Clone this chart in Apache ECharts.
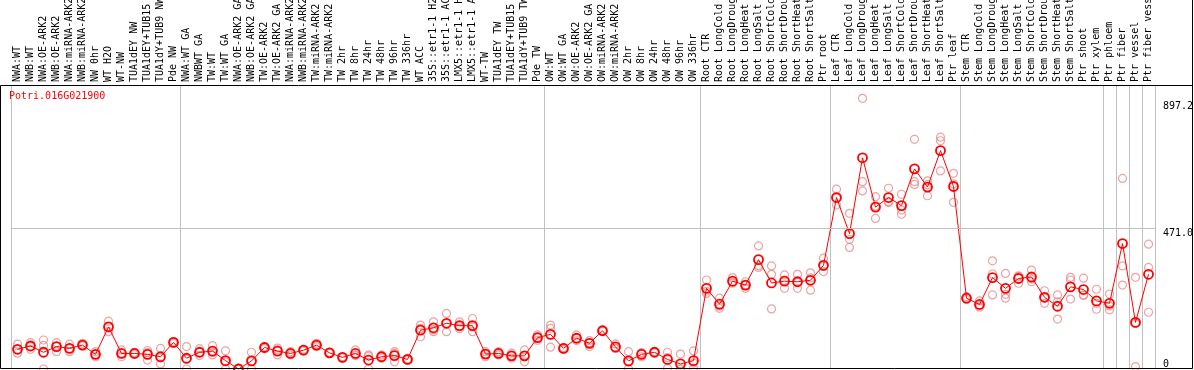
<!DOCTYPE html>
<html>
<head>
<meta charset="utf-8">
<script src="https://cdn.jsdelivr.net/npm/echarts@6/dist/echarts.min.js"></script>
<style>
html,body{margin:0;padding:0;background:#fff;}
#chart{width:1194px;height:370px;}
</style>
</head>
<body>
<div id="chart"></div>
<script>
var geneName = 'Potri.016G021900';
var categories = [
	'NWA:WT','NWB:WT','NWA:OE-ARK2','NWB:OE-ARK2','NWA:miRNA-ARK2','NWB:miRNA-ARK2','NW 0hr','WT H2O','WT-NW','TUA1dEY NW','TUA1dEY+TUB15 NW','TUA1dY+TUB9 NW','Pde NW',
	'NWA:WT GA','NWBWT GA','TW:WT','TW:WT GA','NWA:OE-ARK2 GA','NWB:OE-ARK2 GA','TW:OE-ARK2','TW:OE-ARK2 GA','NWA:miRNA-ARK2','NWB:miRNA-ARK2','TW:miRNA-ARK2','TW:miRNA-ARK2',
	'TW 2hr','TW 8hr','TW 24hr','TW 48hr','TW 96hr','TW 336hr','WT ACC','35S::etr1-1 H2O','35S::etr1-1 ACC','LMX5::etr1-1 H2O','LMX5::etr1-1 ACC','WT-TW','TUA1dEY TW','TUA1dEY+TUB15 TW','TUA1dY+TUB9 TW','Pde TW',
	'OW:WT','OW:WT GA','OW:OE-ARK2','OW:OE-ARK2 GA','OW:miRNA-ARK2','OW:miRNA-ARK2','OW 2hr','OW 8hr','OW 24hr','OW 48hr','OW 96hr','OW 336hr',
	'Root CTR','Root LongCold','Root LongDrought','Root LongHeat','Root LongSalt','Root ShortCold','Root ShortDrought','Root ShortHeat','Root ShortSalt','Ptr root',
	'Leaf CTR','Leaf LongCold','Leaf LongDrought','Leaf LongHeat','Leaf LongSalt','Leaf ShortCold','Leaf ShortDrought','Leaf ShortHeat','Leaf ShortSalt','Ptr leaf',
	'Stem CTR','Stem LongCold','Stem LongDrought','Stem LongHeat','Stem LongSalt','Stem ShortCold','Stem ShortDrought','Stem ShortHeat','Stem ShortSalt','Ptr shoot','Ptr xylem',
	'Ptr phloem','Ptr fiber','Ptr vessel','Ptr fiber vessel'
];
// first category of each sample group (vertical separators)
var groupStarts = [0, 13, 41, 53, 63, 73, 84, 85, 86, 87];
var yTicks = [0, 471.0, 897.2];

var means = [66,77,56,75,69,80,49,141,52,52,49,41,89,
	36,56,60,28,0,27,72,60,52,63,80,54,39,52,30,41,45,32,130,138,153,145,145,50,52,44,44,105,
	116,69,103,86,128,74,27,49,56,32,17,28,
	270,217,294,281,366,288,294,292,297,347,
	574,453,707,542,574,547,670,609,731,611,
	237,216,306,270,303,308,240,210,275,266,228,
	220,420,156,317];
var rep1 = [83,88,97,88,83,86,58,160,64,56,62,69,92,
	75,68,78,61,3,56,75,70,58,66,86,56,41,64,47,47,58,34,147,158,186,158,169,58,58,53,64,114,
	147,72,114,95,130,84,58,55,58,56,50,61,
	298,237,306,292,412,345,315,317,322,371,
	602,521,906,577,605,585,769,630,776,655,
	242,228,362,320,311,331,262,248,307,304,267,
	251,638,307,418];
var rep2 = [66,75,79,76,68,80,49,142,52,52,55,37,89,
	33,56,56,24,0,25,72,64,52,63,80,54,39,47,43,41,52,32,136,131,153,142,141,50,52,44,44,105,
	136,69,103,88,128,69,23,52,56,38,0,20,
	260,211,290,281,346,317,297,290,305,344,
	572,434,627,545,560,532,627,617,764,620,
	237,213,318,250,311,301,238,225,298,248,220,
	211,345,153,340];
var rep3 = [53,66,0,58,58,77,41,125,41,49,30,17,86,
	0,45,47,0,0,0,68,47,47,60,75,52,37,45,0,36,24,30,108,125,125,135,125,41,47,36,24,96,
	73,66,95,75,126,69,0,41,54,2,0,2,
	253,203,287,270,340,201,270,270,264,326,
	549,407,596,504,557,518,618,580,663,558,
	233,207,248,237,287,292,220,167,234,246,200,
	198,281,8,190];

var chart = echarts.init(document.getElementById('chart'), null, {renderer: 'canvas'});

var repData = [];
[rep1, rep2, rep3].forEach(function(arr){
	arr.forEach(function(v, i){
		if (v != null) repData.push([i, v]);
	});
});

function isGroupStart(index){
	return groupStarts.indexOf(index) >= 0;
}

var monoFont = 'DejaVu Sans Mono';
var option = {
	animation: false,
	backgroundColor: '#fff',
	title: {
		text: geneName,
		left: 9,
		top: 91,
		padding: 0,
		textStyle: {
			color: '#ff0000',
			fontSize: 10,
			fontWeight: 'normal',
			fontFamily: monoFont
		}
	},
	grid: {
		left: 11,
		right: 39,
		top: 85,
		bottom: 1,
		outerBoundsMode: 'none',
		containLabel: false
	},
	xAxis: {
		type: 'category',
		position: 'top',
		data: categories,
		boundaryGap: true,
		axisLine: {show: false},
		axisTick: {
			show: true,
			length: 85,
			interval: isGroupStart,
			lineStyle: {color: '#c0c0c0', width: 1}
		},
		splitLine: {
			show: true,
			interval: isGroupStart,
			lineStyle: {color: '#c0c0c0', width: 1}
		},
		axisLabel: {
			interval: 0,
			rotate: 90,
			margin: 3,
			color: '#000',
			fontSize: 10,
			fontFamily: monoFont,
			hideOverlap: false
		}
	},
	yAxis: {
		type: 'value',
		position: 'right',
		min: 0,
		max: 950.7,
		axisLine: {show: false},
		axisTick: {show: false},
		axisLabel: {show: false},
		splitLine: {show: false}
	},
	series: [
		{
			name: 'replicates',
			type: 'scatter',
			data: repData,
			symbol: 'circle',
			symbolSize: 8,
			clip: false,
			z: 2,
			itemStyle: {
				color: 'rgba(255,255,255,0)',
				borderColor: '#e88c8c',
				borderWidth: 1.2
			}
		},
		{
			name: 'mean',
			type: 'line',
			data: means,
			symbol: 'circle',
			symbolSize: 9,
			showAllSymbol: true,
			clip: false,
			z: 3,
			lineStyle: {color: '#ff0000', width: 1},
			itemStyle: {
				color: 'rgba(255,255,255,0)',
				borderColor: '#ff0000',
				borderWidth: 1.8
			},
			markLine: {
				silent: true,
				symbol: 'none',
				animation: false,
				data: yTicks.map(function(v){
					return {
						yAxis: v,
						lineStyle: {
							color: v === 471.0 ? '#c0c0c0' : 'rgba(0,0,0,0)',
							type: 'solid',
							width: 1
						},
						label: {
							show: true,
							position: 'end',
							distance: 8,
							formatter: v === 0 ? '0' : v.toFixed(1),
							color: '#000',
							fontSize: 10,
							fontFamily: monoFont,
							align: 'left',
							verticalAlign: v === 0 ? 'bottom' : 'top'
						}
					};
				})
			}
		}
	],
	graphic: [
		{
			type: 'rect',
			z: 100,
			silent: true,
			shape: {x: 0.5, y: 85.5, width: 1192, height: 283},
			style: {fill: 'none', stroke: '#000', lineWidth: 1}
		},
		{
			type: 'line',
			z: 100,
			silent: true,
			shape: {x1: 1192.5, y1: 0, x2: 1192.5, y2: 86},
			style: {stroke: '#000', lineWidth: 1}
		}
	]
};
chart.setOption(option);
</script>
</body>
</html>
